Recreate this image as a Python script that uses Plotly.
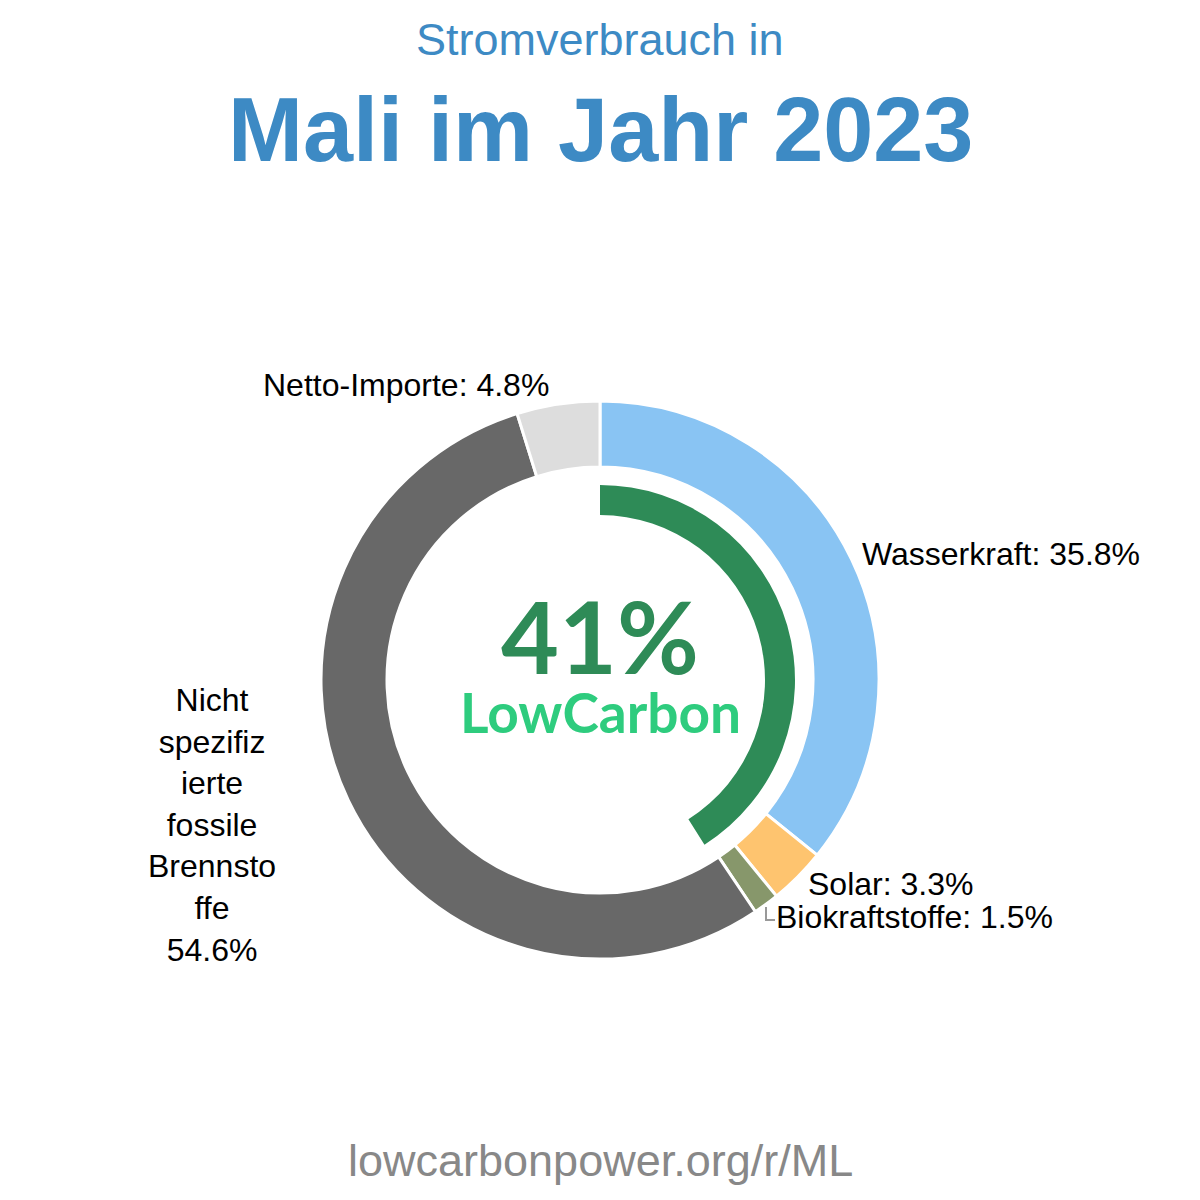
import plotly.graph_objects as go

# ---- data ----
sources = ["Wasserkraft", "Solar", "Biokraftstoffe",
           "Nicht spezifizierte fossile Brennstoffe", "Netto-Importe"]
shares = [35.8, 3.3, 1.5, 54.6, 4.8]
colors = ["#89c4f3", "#fec46f", "#87976b", "#686868", "#dddddd"]
low_carbon_pct = 41
title_top = "Stromverbrauch in"
title_main = "Mali im Jahr 2023"
footer = "lowcarbonpower.org/r/ML"

W = H = 1200
cx, cy = 600, 680
R_outer = 279
R_green = 195


def dom(r):
    return dict(x=[(cx - r) / W, (cx + r) / W],
                y=[1 - (cy + r) / H, 1 - (cy - r) / H])


fig = go.Figure()
fig.add_trace(go.Pie(
    values=shares, labels=sources, sort=False, direction="clockwise",
    rotation=0, hole=213 / 279, textinfo="none", hoverinfo="label+percent",
    marker=dict(colors=colors, line=dict(color="white", width=3)),
    domain=dom(R_outer), showlegend=False,
))
fig.add_trace(go.Pie(
    values=[low_carbon_pct, 100 - low_carbon_pct], sort=False,
    direction="clockwise", rotation=0, hole=165 / 195, textinfo="none",
    hoverinfo="skip",
    marker=dict(colors=["#2e8b57", "rgba(0,0,0,0)"], line=dict(width=0)),
    domain=dom(R_green), showlegend=False,
))

lab_font = dict(family="Liberation Sans, Arial, sans-serif", size=32, color="black")


def P(x, y):
    return x / W, 1 - y / H


ann = []
# label texts derived from data
lab_text = [f"{s}: {v}%" for s, v in zip(sources, shares)]
lab_text[3] = "Nicht<br>spezifiz<br>ierte<br>fossile<br>Brennsto<br>ffe<br>" + f"{shares[3]}%"
lab_pos = [(860, 554, "left"), (806, 884, "left"), (774, 917, "left"),
           (212, 825, "center"), (406, 385, "center")]
for t, (x, y, xa) in zip(lab_text, lab_pos):
    px, py = P(x, y)
    ann.append(dict(x=px, y=py, xref="paper", yref="paper", text=t,
                    showarrow=False, xanchor=xa, yanchor="middle",
                    font=lab_font))

px, py = P(600, 40)
ann.append(dict(x=px, y=py, xref="paper", yref="paper", text=title_top,
                showarrow=False, xanchor="center", yanchor="middle",
                font=dict(family="Liberation Sans, Arial, sans-serif", size=45, color="#3d8ac4")))
px, py = P(600, 130)
ann.append(dict(x=px, y=py, xref="paper", yref="paper", text=f"<b>{title_main}</b>",
                showarrow=False, xanchor="center", yanchor="middle",
                font=dict(family="Liberation Sans, Arial, sans-serif", size=90, color="#3d8ac4")))
px, py = P(600, 1160)
ann.append(dict(x=px, y=py, xref="paper", yref="paper", text=footer,
                showarrow=False, xanchor="center", yanchor="middle",
                font=dict(family="Liberation Sans, Arial, sans-serif", size=45, color="#888888")))
px, py = P(600, 635)
ann.append(dict(x=px, y=py, xref="paper", yref="paper", text=f"<b>{low_carbon_pct}%</b>",
                showarrow=False, xanchor="center", yanchor="middle", height=88,
                font=dict(family="Lato, sans-serif", size=100, color="#2e8b57")))
px, py = P(600, 712)
ann.append(dict(x=px, y=py, xref="paper", yref="paper", text="<b>LowCarbon</b>",
                showarrow=False, xanchor="center", yanchor="middle", height=54,
                font=dict(family="Lato, sans-serif", size=55, color="#2ecc7e")))

fig.update_layout(
    width=W, height=H, margin=dict(l=0, r=0, t=0, b=0),
    paper_bgcolor="white", plot_bgcolor="white",
    annotations=ann,
    shapes=[dict(type="path", xref="paper", yref="paper",
                 path=f"M {766/W} {1-907/H} L {766/W} {1-920/H} L {775/W} {1-920/H}",
                 line=dict(color="#999999", width=2))],
)
fig.write_html("out.html")
